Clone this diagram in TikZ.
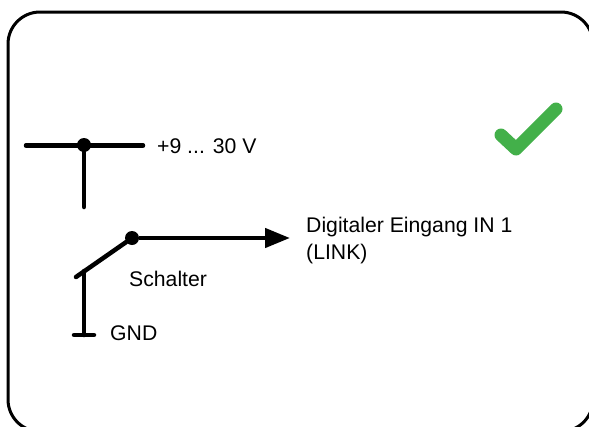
\documentclass[tikz,border=0pt]{standalone}
\usepackage{fontspec}
\setmainfont{Liberation Sans}
\usetikzlibrary{arrows.meta}
\tikzset{
  wire/.style={line width=4.5pt,line cap=round},
  label/.style={anchor=west,inner sep=0pt,font=\fontsize{21.2pt}{25pt}\selectfont},
  dot/.style={circle,fill=black,minimum size=14pt,inner sep=0pt}
}
\begin{document}
\begin{tikzpicture}[x=1pt,y=-1pt]
    \useasboundingbox (0,0) rectangle (589,426);
    \clip (0,0) rectangle (589,426);
    \draw [line width=3pt,rounded corners=32pt] (8,12) rectangle (593,431.5);
    \coordinate (a) at (26,145.5);
    \coordinate (b) at (143,145.5);
    \coordinate (c) at (84,207);
    \node[dot] (d) at (84,145) {};
    \node[dot] (e) at (132,238) {};
    \coordinate (f) at (290,238);
    \coordinate (g) at (76,277);
    \coordinate (h) at (84,271);
    \coordinate (i) at (84,335);
    \coordinate (j) at (74,335);
    \coordinate (k) at (94,335);
    \coordinate (m) at (501,135);
    \coordinate (n) at (516,149);
    \coordinate (o) at (556,109);
    \node[label] (p) at (157,146) {+9 ... 30 V};
    \node[label] (q) at (306,227.5) {Digitaler Eingang IN 1};
    \node[label] (r) at (306,254.5) {(LINK)};
    \node[label] (s) at (129,279) {Schalter};
    \node[label] (t) at (110,333) {GND};
    \draw [wire] (a) to (b);
    \draw [wire] (d) to (c);
    \draw [wire,line cap=butt,-{Triangle[length=25pt,width=19pt]}] (e) to (f);
    \draw [wire] (e) to (g);
    \draw [wire] (h) to (i);
    \draw [wire] (j) to (k);
    \draw [line width=13pt,line cap=round,line join=round,color={rgb,255:red,67;green,176;blue,74}] (m) to (n) to (o);
  \end{tikzpicture}
\end{document}
